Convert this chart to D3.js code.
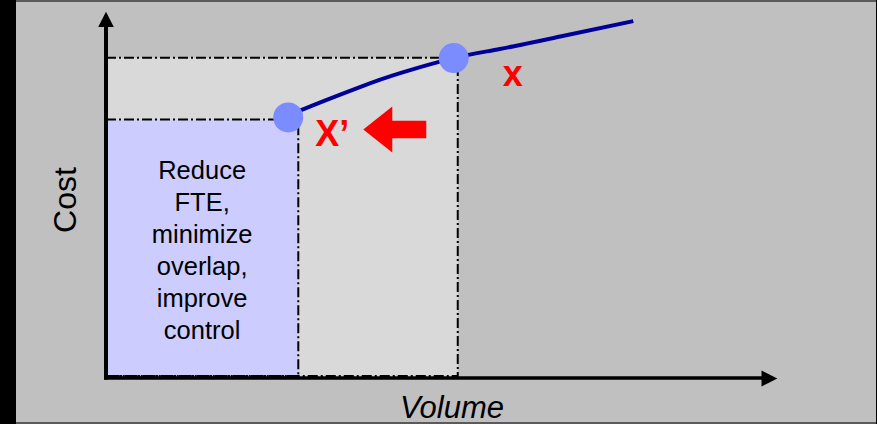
<!DOCTYPE html>
<html>
<head>
<meta charset="utf-8">
<script src="https://cdn.jsdelivr.net/npm/d3@7"></script>
<style>
  html, body { margin: 0; padding: 0; background: #000; }
  svg { display: block; }
  text { font-family: "Liberation Sans", Arial, sans-serif; }
</style>
</head>
<body>
<svg id="chart" width="877" height="424"></svg>
<script>
// Cost curve (volume vs cost, arbitrary units 0..100)
const curveVolume = [27.2, 29.0, 37.9, 43.9, 51.9, 58.8, 67.8, 78.7];
const curveCost   = [71.2, 73.1, 79.5, 83.3, 87.4, 89.9, 93.3, 97.5];

// Operating points on the curve
const pointLabels = ["X’", "x"];
const pointVolume = [27.2, 51.9];
const pointCost   = [71.2, 87.4];

// Shaded regions under each operating point
const regionNames  = ["current", "target"];
const regionVolume = [52.5, 28.7];
const regionCost   = [87.5, 70.6];

// Text inside the target region
const regionText = ["Reduce", "FTE,", "minimize", "overlap,", "improve", "control"];

// Shift arrow from current to target volume
const shiftFrom = 47.8;
const shiftTo   = 38.4;
const shiftCost = 67.9;

const axisTitles = { x: "Volume", y: "Cost" };

const W = 877, H = 424;
const svg = d3.select("#chart");

const x = d3.scaleLinear().domain([0, 100]).range([106, 776]);
const y = d3.scaleLinear().domain([0, 100]).range([378, 12]);

// panel frame
svg.append("rect").attr("x", 0).attr("y", 0).attr("width", W).attr("height", H).attr("fill", "#000");
svg.append("rect").attr("x", 16).attr("y", 0).attr("width", 860).attr("height", H).attr("fill", "#5a5a5a");
svg.append("rect").attr("x", 16).attr("y", 2).attr("width", 860).attr("height", 420).attr("fill", "#c0c0c0");

// shaded regions
const regionFill = { current: "#d9d9d9", target: "#ccccff" };
regionNames.forEach((name, i) => {
  svg.append("rect")
    .attr("x", x(0))
    .attr("y", y(regionCost[i]))
    .attr("width", x(regionVolume[i]) - x(0))
    .attr("height", y(0) - y(regionCost[i]))
    .attr("fill", regionFill[name]);
});

// dash-dot guides around each region
regionNames.forEach((name, i) => {
  const path = d3.path();
  path.moveTo(x(0), y(regionCost[i]));
  path.lineTo(x(regionVolume[i]), y(regionCost[i]));
  path.lineTo(x(regionVolume[i]), y(0) - 2);
  path.lineTo(x(0), y(0) - 2);
  svg.append("path")
    .attr("d", path.toString())
    .attr("fill", "none")
    .attr("stroke", "#000")
    .attr("stroke-width", 2)
    .attr("stroke-dasharray", "10,3,2,3");
});

// region text
const textG = svg.append("text")
  .attr("text-anchor", "middle")
  .attr("font-size", 25.5)
  .attr("fill", "#000");
regionText.forEach((line, i) => {
  textG.append("tspan")
    .attr("x", (x(0) + x(regionVolume[1])) / 2)
    .attr("y", 179 + i * 32)
    .text(line);
});

// axes with arrowheads
const axisG = svg.append("g");
axisG.append("line")
  .attr("x1", x(0)).attr("y1", y(0) + 1.5)
  .attr("x2", x(0)).attr("y2", y(100) + 14)
  .attr("stroke", "#000").attr("stroke-width", 4);
axisG.append("path")
  .attr("d", `M${x(0)},${y(100) - 0.3} L${x(0) - 7.8},${y(100) + 15} L${x(0) + 7.8},${y(100) + 15} Z`)
  .attr("fill", "#000");
axisG.append("line")
  .attr("x1", x(0) - 2).attr("y1", y(0))
  .attr("x2", x(100) - 14).attr("y2", y(0))
  .attr("stroke", "#000").attr("stroke-width", 3.5);
axisG.append("path")
  .attr("d", `M${x(100) + 1.3},${y(0) + 0.5} L${x(100) - 14.5},${y(0) - 7.5} L${x(100) - 14.5},${y(0) + 8.5} Z`)
  .attr("fill", "#000");

// axis titles
svg.append("text")
  .attr("transform", `translate(75.5,${(y(0) + y(100)) / 2 + 5}) rotate(-90)`)
  .attr("text-anchor", "middle")
  .attr("font-size", 32)
  .attr("fill", "#000")
  .text(axisTitles.y);
svg.append("text")
  .attr("x", 452)
  .attr("y", 418)
  .attr("text-anchor", "middle")
  .attr("font-size", 31)
  .attr("font-style", "italic")
  .attr("fill", "#000")
  .text(axisTitles.x);

// cost curve
const curveData = curveVolume.map((v, i) => [v, curveCost[i]]);
svg.append("path")
  .datum(curveData)
  .attr("d", d3.line().x(d => x(d[0])).y(d => y(d[1])).curve(d3.curveNatural))
  .attr("fill", "none")
  .attr("stroke", "#000099")
  .attr("stroke-width", 4);

// operating points
svg.selectAll("circle.pt")
  .data(pointVolume.map((v, i) => ({ v, c: pointCost[i] })))
  .join("circle")
  .attr("class", "pt")
  .attr("cx", d => x(d.v))
  .attr("cy", d => y(d.c))
  .attr("r", 15)
  .attr("fill", "#7b8cff");

// point labels
const labelOffset = [[27, 29], [59, 27.5]];
pointLabels.forEach((lab, i) => {
  svg.append("text")
    .attr("x", x(pointVolume[i]) + labelOffset[i][0])
    .attr("y", y(pointCost[i]) + labelOffset[i][1])
    .attr("text-anchor", i === 0 ? "start" : "middle")
    .attr("font-size", 36)
    .attr("font-weight", "bold")
    .attr("fill", "#ff0000")
    .text(lab);
});

// shift arrow
const ax0 = x(shiftTo), ax1 = x(shiftFrom), ay = y(shiftCost);
const headLen = 29, headHalf = 23, shaftHalf = 8.8;
svg.append("path")
  .attr("d", `M${ax0},${ay}
              L${ax0 + headLen},${ay - headHalf}
              L${ax0 + headLen},${ay - shaftHalf}
              L${ax1},${ay - shaftHalf}
              L${ax1},${ay + shaftHalf}
              L${ax0 + headLen},${ay + shaftHalf}
              L${ax0 + headLen},${ay + headHalf} Z`)
  .attr("fill", "#ff0000");
</script>
</body>
</html>
